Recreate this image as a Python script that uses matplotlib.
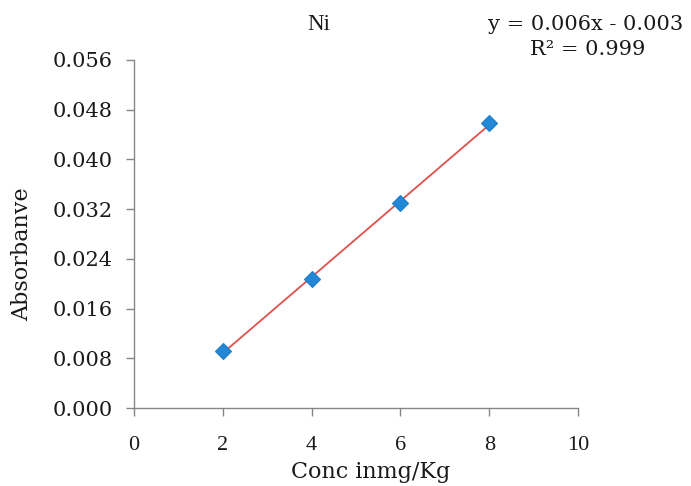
import numpy as np
import matplotlib
matplotlib.use("Agg")
import matplotlib.pyplot as plt
from matplotlib.ticker import FixedLocator, FormatStrFormatter

# Calibration data for Ni
conc = np.array([2, 4, 6, 8])
absorbance = np.array([0.0092, 0.0207, 0.0330, 0.0459])

x_ticks = [0, 2, 4, 6, 8, 10]
y_ticks = [0.000, 0.008, 0.016, 0.024, 0.032, 0.040, 0.048, 0.056]

# Linear least-squares trend line
slope, intercept = np.polyfit(conc, absorbance, 1)
pred = slope * conc + intercept
r2 = 1 - np.sum((absorbance - pred) ** 2) / np.sum((absorbance - absorbance.mean()) ** 2)

W, H = 691, 486
fig = plt.figure(figsize=(W / 100, H / 100), dpi=100)
ax = fig.add_axes([134 / W, 1 - 408 / H, 444 / W, 348 / H])

xs = np.array([conc.min(), conc.max()])
ax.plot(xs, slope * xs + intercept, color="#E0504C", lw=1.3, zorder=2)
ax.plot(conc, absorbance, linestyle="none", marker="D", markersize=8,
        color="#2288D6", markeredgecolor="#1F7FC8", markeredgewidth=0.8, zorder=3)

ax.set_xlim(0, 10)
ax.set_ylim(0, 0.056)
ax.xaxis.set_major_locator(FixedLocator(x_ticks))
ax.yaxis.set_major_locator(FixedLocator(y_ticks))
ax.yaxis.set_major_formatter(FormatStrFormatter("%.3f"))

for side in ("top", "right"):
    ax.spines[side].set_visible(False)
for side in ("left", "bottom"):
    ax.spines[side].set_color("#868686")
    ax.spines[side].set_linewidth(1.0)

ax.tick_params(axis="both", direction="out", length=5.5, width=1.0, color="#868686",
               labelcolor="#1a1a1a")
ax.tick_params(axis="y", labelsize=15, pad=10)
ax.tick_params(axis="x", labelsize=16, pad=14.5)
for lab in ax.get_yticklabels():
    lab.set_family("DejaVu Serif")
for lab in ax.get_xticklabels():
    lab.set_family("Liberation Serif")

ax.set_xlabel("Conc inmg/Kg", fontsize=16, family="DejaVu Serif", va="baseline",
              color="#1a1a1a")
ax.xaxis.set_label_coords((371 - 134) / 444, (408 - 478) / 348)
ax.set_ylabel("Absorbanve", fontsize=16, family="DejaVu Serif", va="center",
              color="#1a1a1a")
ax.yaxis.set_label_coords((22 - 134) / 444, (408 - 254) / 348)

fig.text(318.5 / W, 1 - 30 / H, "Ni", ha="center", va="baseline",
         fontsize=16.5, family="Liberation Serif", color="#1a1a1a")

sign = "-" if intercept < 0 else "+"
fig.text(586 / W, 1 - 30 / H, f"y = {slope:.3f}x {sign} {abs(intercept):.3f}",
         ha="center", va="baseline", fontsize=15, family="DejaVu Serif", color="#1a1a1a")
fig.text(587.5 / W, 1 - 55 / H, f"R² = {r2:.3f}",
         ha="center", va="baseline", fontsize=15, family="DejaVu Serif", color="#1a1a1a")

fig.savefig("out.png", dpi=100)
